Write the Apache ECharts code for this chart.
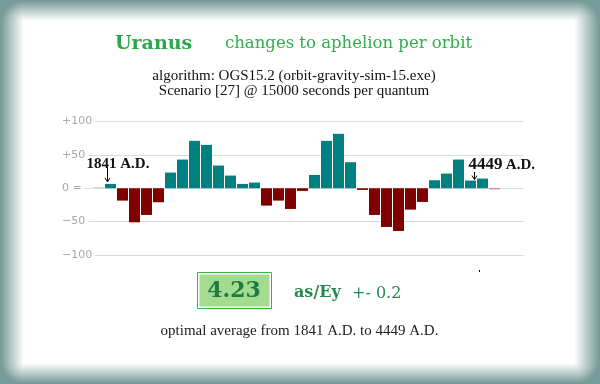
<!DOCTYPE html>
<html><head><meta charset="utf-8">
<script src="https://cdn.jsdelivr.net/npm/echarts@6/dist/echarts.min.js"></script>
<style>html,body{margin:0;padding:0;background:#fff}#c{width:600px;height:384px}</style>
</head><body><div id="c"></div>
<script>
// ---- data ----
const aphelionChange = [1.5, 6.5, -18.5, -51, -40, -21, 23.5, 43, 71, 65, 34, 19, 6.5, 8.5,
  -26, -18.5, -31, -4, 20, 71, 81.5, 39, -2.5, -40, -58, -64, -32, -20.5, 12, 22, 43, 11.5, 14.5, -1.5];
const yTickValues = [-100, -50, 0, 50, 100];
const yTickLabels = ['\u2212100', '\u221250', '0 =', '+50', '+100'];
const planetName = 'Uranus';
const chartTitle = 'changes to aphelion per orbit';
const subtitleLines = ['algorithm: OGS15.2 (orbit-gravity-sim-15.exe)', 'Scenario [27] @ 15000 seconds per quantum'];
const startYear = '1841', endYear = '4449', eraLabel = 'A.D.';
const startBar = 1, endBar = 31;
const averageValue = '4.23', averageUnit = 'as/Ey', averageError = '+- 0.2';
const footnote = 'optimal average from 1841 A.D. to 4449 A.D.';

// ---- build ----
const chart = echarts.init(document.getElementById('c'), null, {renderer: 'canvas'});
const seriesData = aphelionChange.map((v, i) => [i, v]);
const last = aphelionChange.length - 1;
const splitColors = yTickValues.map(v => v < 0 ? '#e3d3da' : (v === 0 ? '#d6e2e2' : '#d2e0e0'));

chart.setOption({
  animation: false,
  backgroundColor: 'transparent',
  grid: {left: 62, right: 76.5, top: 121.5, bottom: 129},
  xAxis: {type: 'value', min: -3.042, max: 35.417, show: false, splitLine: {show: false}},
  yAxis: {
    type: 'value', min: -100, max: 100, interval: 50,
    axisLine: {show: false}, axisTick: {show: false},
    splitLine: {show: true, lineStyle: {color: splitColors, width: 1}},
    axisLabel: {
      inside: true, margin: 0, color: '#a8a8a8', fontFamily: 'DejaVu Sans', fontSize: 11,
      backgroundColor: '#fff', padding: [0, 3, 0, 0],
      formatter: v => { const k = yTickValues.indexOf(v); return k >= 0 ? yTickLabels[k] : ''; }
    }
  },
  series: [{
    type: 'bar', data: seriesData, barWidth: 11, z: 3,
    itemStyle: {
      color: p => p.dataIndex === 0 ? '#a9e6a4' : (p.dataIndex === last ? '#cc6a6a' : (p.value[1] >= 0 ? '#008080' : '#800000'))
    }
  }]
});

// ---- decorations / annotations ----
const g = [];
const outer = [118, 155, 152];
const N = 14;
g.push({type: 'rect', z: -20, shape: {x: 0, y: 0, width: 600, height: 384}, style: {fill: 'rgb(' + outer.join(',') + ')'}});
for (let i = 1; i <= N; i++) {
  const t = i / N;
  const l = 23 * t, tp = 20 * t, r = 25 * t, b = 20 * t;
  const c = outer.map(o => Math.round(o + (255 - o) * t));
  g.push({type: 'rect', z: -20 + i * 0.01, shape: {x: l, y: tp, width: 600 - l - r, height: 384 - tp - b, r: (1 - t) * 22 + 1},
    style: {fill: 'rgb(' + c.join(',') + ')'}});
}
const green = '#2fae4c';
g.push({type: 'text', x: 115, y: 44, style: {text: planetName, font: 'bold 19px "DejaVu Serif"', fill: '#28a84a', textVerticalAlign: 'middle'}});
g.push({type: 'text', x: 225, y: 44, style: {text: chartTitle, font: '16.5px "DejaVu Serif"', fill: green, textVerticalAlign: 'middle'}});
g.push({type: 'text', x: 294, y: 76.5, style: {text: subtitleLines[0], font: '15px "Liberation Serif"', fill: '#111', textAlign: 'center', textVerticalAlign: 'middle'}});
g.push({type: 'text', x: 294, y: 91.5, style: {text: subtitleLines[1], font: '15px "Liberation Serif"', fill: '#111', textAlign: 'center', textVerticalAlign: 'middle'}});

function arrow(x, y0, y1) {
  g.push({type: 'line', z: 10, shape: {x1: x, y1: y0, x2: x, y2: y1}, style: {stroke: '#000', lineWidth: 1}});
  g.push({type: 'polyline', z: 10, shape: {points: [[x - 2.5, y1 - 4], [x, y1], [x + 2.5, y1 - 4]]}, style: {stroke: '#000', lineWidth: 1, fill: null}});
}
const p1 = chart.convertToPixel({gridIndex: 0}, [startBar, aphelionChange[startBar]]);
const a1 = Math.round(p1[0] - 4) + 0.5;
arrow(a1, 167, p1[1] - 2);
g.push({type: 'text', z: 10, x: a1 - 21, y: 164, style: {text: startYear + ' ' + eraLabel, font: 'bold 15px "Liberation Serif"', fill: '#111', textVerticalAlign: 'middle'}});
const p2 = chart.convertToPixel({gridIndex: 0}, [endBar, aphelionChange[endBar]]);
const a2 = Math.round(p2[0] + 3.5) + 0.5;
arrow(a2, 172, p2[1] - 1);
g.push({type: 'text', z: 10, x: a2 - 6, y: 165, style: {text: '{y|' + endYear + '} {e|' + eraLabel + '}', fill: '#111', textVerticalAlign: 'middle',
  rich: {y: {font: 'bold 17px "Liberation Serif"', fill: '#111'}, e: {font: 'bold 15px "Liberation Serif"', fill: '#111'}}}});

// average box
g.push({type: 'rect', shape: {x: 197.5, y: 272.5, width: 74, height: 36}, style: {fill: '#fff', stroke: '#3cb04b', lineWidth: 1}});
g.push({type: 'rect', shape: {x: 199.5, y: 274.5, width: 70, height: 32}, style: {fill: '#a3dc8f'}});
g.push({type: 'text', x: 234, y: 291, style: {text: averageValue, font: 'bold 22px "DejaVu Serif"', fill: '#1f7a43', textAlign: 'center', textVerticalAlign: 'middle'}});
g.push({type: 'text', x: 294, y: 292.5, style: {text: averageUnit, font: 'bold 16px "DejaVu Serif"', fill: '#268a4e', textVerticalAlign: 'middle'}});
g.push({type: 'text', x: 352, y: 293.5, style: {text: averageError, font: '16px "DejaVu Serif"', fill: '#268a4e', textVerticalAlign: 'middle'}});
g.push({type: 'rect', shape: {x: 479, y: 270, width: 1, height: 2}, style: {fill: '#000'}});
g.push({type: 'text', x: 299.5, y: 331, style: {text: footnote, font: '15px "Liberation Serif"', fill: '#222', textAlign: 'center', textVerticalAlign: 'middle'}});

chart.setOption({graphic: {elements: g}});
</script>
</body></html>
